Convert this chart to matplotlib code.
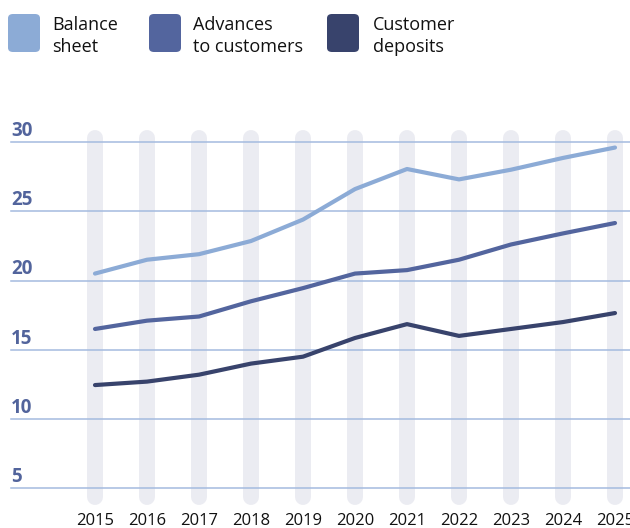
import matplotlib
matplotlib.use("Agg")
import matplotlib.pyplot as plt
from matplotlib.patches import FancyBboxPatch

plt.rcParams['font.family'] = ['Open Sans', 'DejaVu Sans']

years = [2015, 2016, 2017, 2018, 2019, 2020, 2021, 2022, 2023, 2024, 2025]
balance_sheet = [20.5, 21.5, 21.9, 22.85, 24.4, 26.6, 28.05, 27.3, 28.0, 28.85, 29.6]
advances = [16.5, 17.1, 17.4, 18.5, 19.45, 20.5, 20.75, 21.5, 22.6, 23.4, 24.15]
deposits = [12.45, 12.7, 13.2, 14.0, 14.5, 15.85, 16.85, 16.0, 16.5, 17.0, 17.65]
y_ticks = [5, 10, 15, 20, 25, 30]

series_names = ["Balance\nsheet", "Advances\nto customers", "Customer\ndeposits"]
colors = ["#8cabd6", "#53659e", "#38436c"]
label_color = "#52649c"
grid_color = "#a4bbdf"
band_color = "#ebecf2"

W, H = 630, 528
fig = plt.figure(figsize=(W / 100, H / 100), dpi=100)
ax = fig.add_axes([0, 0, 1, 1])
ax.axis("off")

# pixel mapping: 2015 -> x=95, 52 px per year; 30 -> y=142, 13.85 px per unit
px_year = 52.0
px_unit = 13.85
ax.set_xlim(2015 - 95 / px_year, 2015 + (W - 95) / px_year)
ax.set_ylim(30 - (H - 142) / px_unit, 30 + 142 / px_unit)

# vertical rounded bands
band_top = 30 - (138 - 142) / px_unit
band_bot = 30 - (497 - 142) / px_unit
for yr in years:
    ax.plot([yr, yr], [band_bot, band_top], color=band_color, lw=11.5,
            solid_capstyle="round", zorder=1)

# horizontal grid lines + labels
for v in y_ticks:
    ax.axhline(v, xmin=11 / W, xmax=1, color=grid_color, lw=1.1, zorder=2)
    ax.text(2015 - (95 - 11) / px_year, v + 6 / px_unit, str(v), color=label_color,
            fontsize=13.5, fontweight="bold", ha="left", va="baseline", zorder=3)

for vals, c in zip([balance_sheet, advances, deposits], colors):
    ax.plot(years, vals, color=c, lw=3, solid_capstyle="round",
            solid_joinstyle="round", zorder=4)

# x labels
for yr in years:
    ax.text(yr, 30 - (525 - 142) / px_unit, str(yr), color="#111111",
            fontsize=12, ha="center", va="baseline")

# legend
sw_x = [8, 149, 327]
tx_x = [52, 193, 373]
for sx, tx, name, c in zip(sw_x, tx_x, series_names, colors):
    fig.patches.append(FancyBboxPatch((sx / W, 1 - 52 / H), 32 / W, 38 / H,
                                      boxstyle="round,pad=0,rounding_size=0.008",
                                      transform=fig.transFigure, facecolor=c,
                                      edgecolor="none"))
    l1, l2 = name.split("\n")
    fig.text(tx / W, 1 - 30 / H, l1, fontsize=13, color="#111111", va="baseline")
    fig.text(tx / W, 1 - 52 / H, l2, fontsize=13, color="#111111", va="baseline")

fig.savefig("out.png", dpi=100)
